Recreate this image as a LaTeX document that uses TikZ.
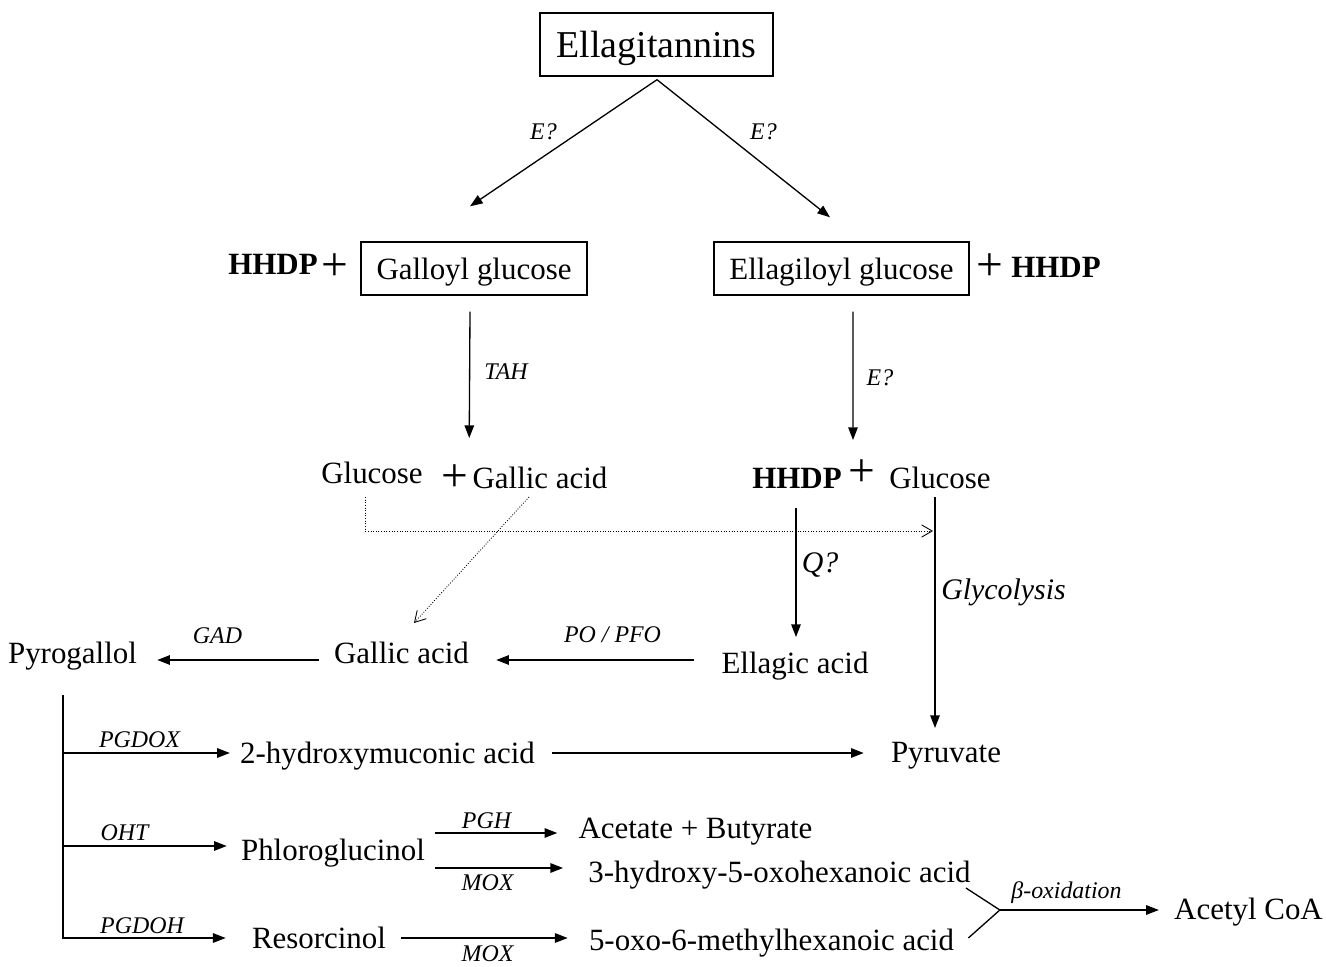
\documentclass[tikz,border=0pt]{standalone}
\usepackage{fontspec}
\setmainfont{Liberation Serif}
\usetikzlibrary{arrows.meta}

\newcommand\mainfs{\fontsize{17.6}{21}\selectfont}
\newcommand\bigfs{\fontsize{21.6}{26}\selectfont}
\newcommand\labfs{\fontsize{13.6}{16}\selectfont\itshape}
\newcommand\midfs{\fontsize{17}{20}\selectfont\itshape}
\newcommand\plusfs{\fontsize{27}{27}\selectfont}

\begin{document}
\begin{tikzpicture}[x=0.2mm,y=-0.2mm,
  txt/.style={anchor=base,inner sep=0pt,font=\mainfs},
  bld/.style={txt,font=\mainfs\bfseries},
  lbl/.style={anchor=base,inner sep=0pt,font=\labfs},
  box/.style={draw,line width=0.8pt,inner sep=0pt,text depth=0pt,font=\mainfs},
  pls/.style={inner sep=0pt,font=\plusfs},
  arr/.style={line width=0.75pt,-{Triangle[length=7.2pt,width=5.4pt]}},
  dotarr/.style={line width=0.5pt,densely dotted,-{Straight Barb[length=6pt,width=7pt]}}]

\useasboundingbox (0,0) rectangle (1326,967);

%% boxes
\node[box,font=\bigfs,minimum width=46.6mm,minimum height=12.6mm] (et) at (656.5,44.5) {Ellagitannins};
\node[box,minimum width=45.2mm,minimum height=10.6mm] (gg) at (474,268.5) {Galloyl glucose};
\node[box,minimum width=51mm,minimum height=10.6mm] (eg) at (841.5,268.5) {Ellagiloyl glucose};
\node[bld] (hhdpa) at (273,275) {HHDP};
\node[pls] (plsa) at (335,267) {+};
\node[pls] (plsb) at (990,267) {+};
\node[bld] (hhdpb) at (1056,278) {HHDP};

%% hydrolysis products
\node[txt] (glca) at (372,483) {Glucose};
\node[pls] (plsc) at (455,478) {+};
\node[txt] (gala) at (540,488) {Gallic acid};
\node[bld] (hhdpc) at (797,488) {HHDP};
\node[pls] (plsd) at (861.5,473) {+};
\node[txt] (glcb) at (940,488) {Glucose};

\node[txt] (pyro) at (72.5,663) {Pyrogallol};
\node[txt] (galb) at (401.5,663) {Gallic acid};
\node[txt] (ella) at (795,673) {Ellagic acid};

%% degradation
\node[txt] (hmuc) at (387.5,763) {2-hydroxymuconic acid};
\node[txt] (pyru) at (946,762) {Pyruvate};
\node[txt] (phlo) at (333,860) {Phloroglucinol};
\node[txt] (acbu) at (695.5,838) {Acetate + Butyrate};
\node[txt] (hoxo) at (779.5,882) {3-hydroxy-5-oxohexanoic acid};
\node[txt] (reso) at (319,948) {Resorcinol};
\node[txt] (oxom) at (771.5,950) {5-oxo-6-methylhexanoic acid};
\node[txt] (acoa) at (1248.5,919) {Acetyl CoA};

%% enzymes
\node[lbl] (ea) at (543.5,140) {E?};
\node[lbl] (eb) at (763.5,140) {E?};
\node[lbl] (tah) at (506,380) {TAH};
\node[lbl] (ec) at (880,386) {E?};
\node[lbl,font=\midfs] (qq) at (820,572) {Q?};
\node[lbl,font=\midfs] (glyc) at (1003.5,599) {Glycolysis};
\node[lbl] (po) at (612.5,642) {PO / PFO};
\node[lbl] (gad) at (217.5,643) {GAD};
\node[lbl] (pgdox) at (139.5,747) {PGDOX};
\node[lbl] (oht) at (124.5,840) {OHT};
\node[lbl] (pgdoh) at (142,933) {PGDOH};
\node[lbl] (pgh) at (486.5,828) {PGH};
\node[lbl] (moxa) at (487.5,890) {MOX};
\node[lbl] (moxb) at (487.5,961) {MOX};
\node[lbl] (boxi) at (1066.5,898) {β-oxidation};

\draw[arr] ([shift={(0.5,3)}]et.south) -- ([shift={(-4,-35)}]gg.north);
\draw[arr] ([shift={(0.5,3)}]et.south) -- ([shift={(-11.5,-24)}]eg.north);
\draw[arr] ([shift={(-4,16)}]gg.south) -- ([shift={(-3,-50)}]gala.base west);
\draw[arr] ([shift={(11.5,16)}]eg.south) -- ([shift={(-8.5,-33)}]plsd.center);

\draw[dotarr] ([shift={(-7,14)}]glca.base) |- ([shift={(-7,43)}]glcb.base);
\draw[dotarr] ([shift={(-11,9)}]gala.base) -- ([shift={(12.5,-40)}]galb.base);

\draw[arr] ([shift={(-1,20)}]hhdpc.base) -- ([shift={(1,-36)}]ella.base);
\draw[arr] ([shift={(-5,9)}]glcb.base) -- ([shift={(-11,-34)}]pyru.base);
\draw[arr] ([shift={(-27,-13)}]ella.base west) -- ([shift={(27,-3)}]galb.base east);
\draw[arr] ([shift={(-15,-3)}]galb.base west) -- ([shift={(20,-3)}]pyro.base east);

\coordinate (trunk) at ([shift={(-9.5,32)}]pyro.base);
\coordinate (hmin) at ([shift={(-10,-10)}]hmuc.base west);
\coordinate (phin) at ([shift={(-14,-14)}]phlo.base west);
\coordinate (rein) at ([shift={(-26,-10)}]reso.base west);
\draw[arr] (trunk) -- (trunk |- rein) -- (rein);
\draw[arr] (trunk |- hmin) -- (hmin);
\draw[arr] (trunk |- phin) -- (phin);

\draw[arr] ([shift={(17,-10)}]hmuc.base east) -- ([shift={(-27,-9)}]pyru.base west);
\draw[arr] ([shift={(10,-27)}]phlo.base east) -- ([shift={(-21,-5)}]acbu.base west);
\draw[arr] ([shift={(10,8)}]phlo.base east) -- ([shift={(-25,-14)}]hoxo.base west);
\draw[arr] ([shift={(15,-10)}]reso.base east) -- ([shift={(-21,-12)}]oxom.base west);

\coordinate (fork) at ([shift={(-174,-9)}]acoa.base west);
\draw[line width=0.75pt] ([shift={(-5,6)}]hoxo.base east) -- (fork) -- ([shift={(14,-12)}]oxom.base east);
\draw[arr] (fork) -- ([shift={(-15,-9)}]acoa.base west);

\end{tikzpicture}
\end{document}
